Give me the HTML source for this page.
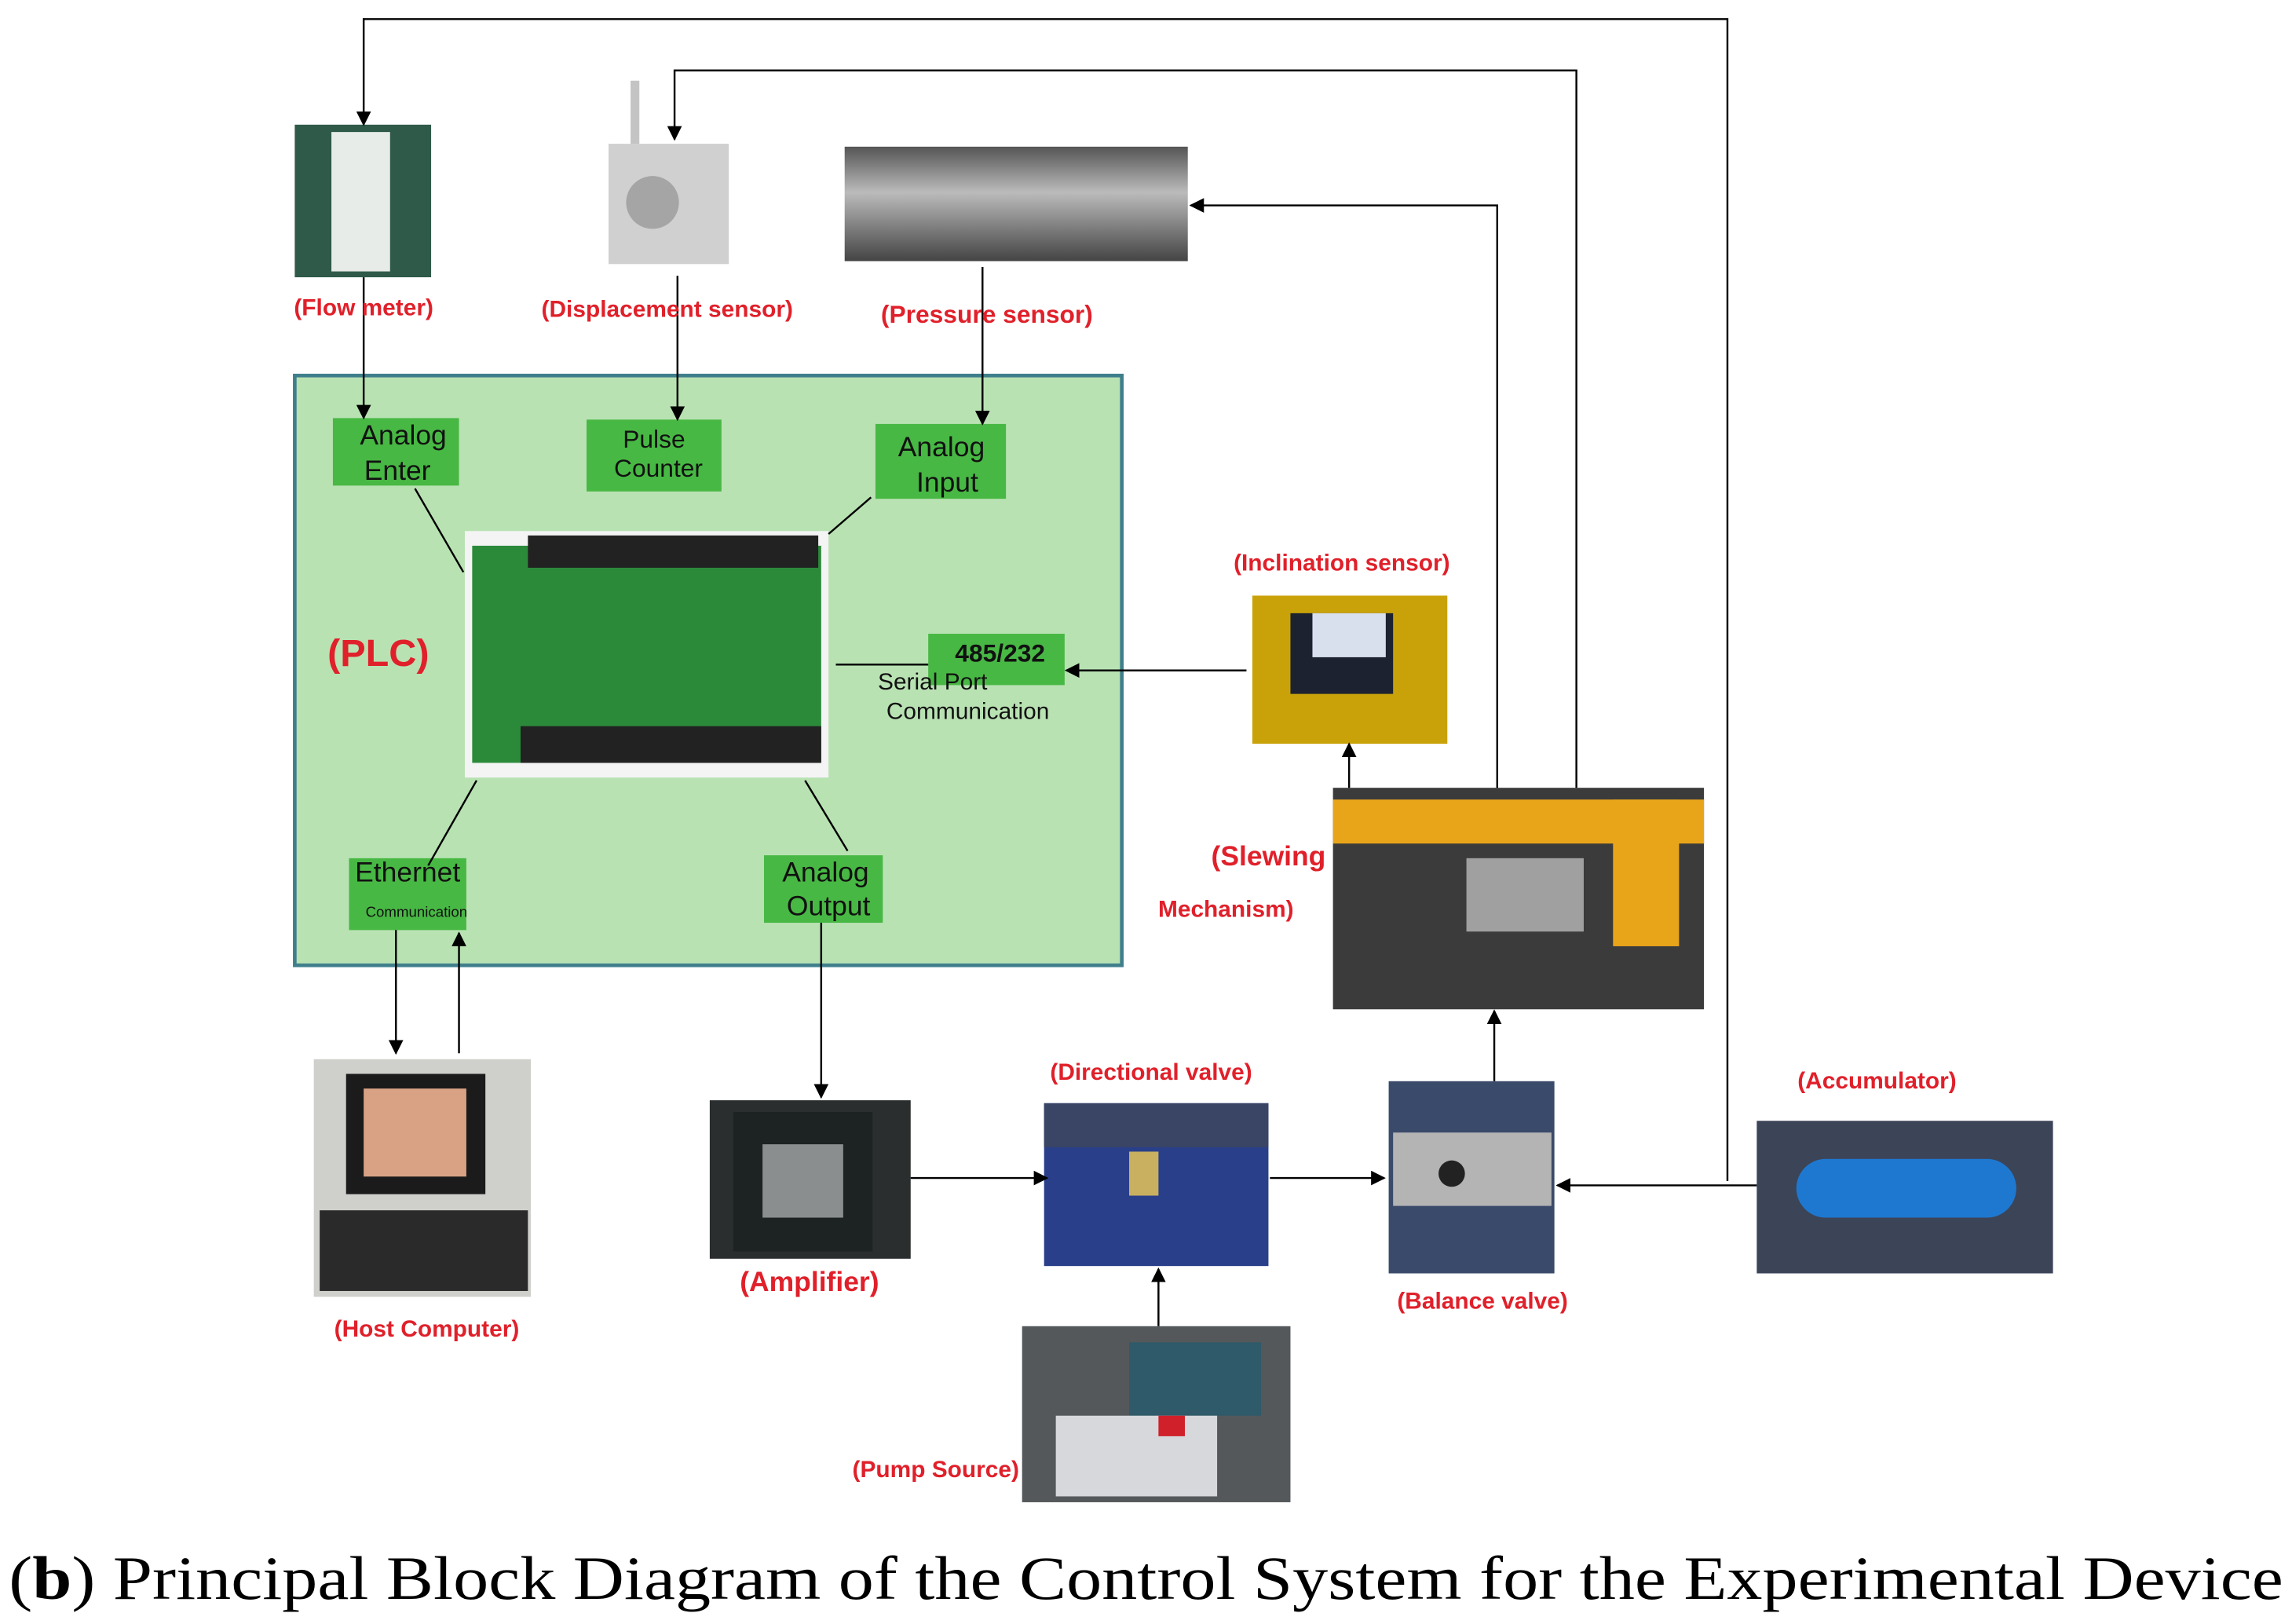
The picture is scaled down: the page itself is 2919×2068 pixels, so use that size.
<!DOCTYPE html>
<html><head><meta charset="utf-8"><style>
html,body{margin:0;padding:0;background:#fff;}
svg{display:block;}
.lbl{font-family:"Liberation Sans",sans-serif;font-weight:bold;fill:#e0202a;font-size:16px;text-anchor:middle;}
.g{font-family:"Liberation Sans",sans-serif;fill:#111;text-anchor:middle;}
</style></head><body>
<svg width="2919" height="2068" viewBox="0 0 1563 1107" preserveAspectRatio="none" xmlns="http://www.w3.org/2000/svg">
<defs>
<marker id="a" markerWidth="10" markerHeight="10" refX="9" refY="5" orient="auto" markerUnits="userSpaceOnUse"><path d="M0,0 L10,5 L0,10 z" fill="#000"/></marker>
<linearGradient id="metal" x1="0" y1="0" x2="0" y2="1"><stop offset="0" stop-color="#555"/><stop offset=".4" stop-color="#bbb"/><stop offset="1" stop-color="#444"/></linearGradient>
</defs>
<rect width="1563" height="1107" fill="#fff"/>
<rect x="201" y="256" width="564" height="402" fill="#b9e2b3" stroke="#3f7f8c" stroke-width="2.5"/>
<rect x="201" y="85" width="93" height="104" fill="#2f5a4a"/><rect x="226" y="90" width="40" height="95" fill="#e8ece8"/>
<rect x="415" y="98" width="82" height="82" fill="#d0d0d0"/><circle cx="445" cy="138" r="18" fill="#a5a5a5"/><rect x="430" y="55" width="6" height="43" fill="#c4c4c4"/>
<rect x="576" y="100" width="234" height="78" fill="url(#metal)"/>
<rect x="317" y="362" width="248" height="168" fill="#f4f4f4"/><rect x="322" y="372" width="238" height="148" fill="#2b8a3a"/><rect x="360" y="365" width="198" height="22" fill="#222"/><rect x="355" y="495" width="205" height="25" fill="#222"/>
<rect x="854" y="406" width="133" height="101" fill="#c9a20a"/><rect x="880" y="418" width="70" height="55" fill="#1c2230"/><rect x="895" y="418" width="50" height="30" fill="#d8e0ee"/>
<rect x="909" y="537" width="253" height="151" fill="#3b3b3b"/><rect x="909" y="545" width="253" height="30" fill="#e9a51a"/><rect x="1100" y="545" width="45" height="100" fill="#e9a51a"/><rect x="1000" y="585" width="80" height="50" fill="#a0a0a0"/>
<rect x="214" y="722" width="148" height="162" fill="#cfd0cc"/><rect x="236" y="732" width="95" height="82" fill="#1b1b1b"/><rect x="248" y="742" width="70" height="60" fill="#d9a284"/><rect x="218" y="825" width="142" height="55" fill="#2a2a2a"/>
<rect x="484" y="750" width="137" height="108" fill="#2a2e2e"/><rect x="500" y="758" width="95" height="95" fill="#1d2222"/><rect x="520" y="780" width="55" height="50" fill="#8a8e8e"/>
<rect x="712" y="752" width="153" height="111" fill="#2a3f8a"/><rect x="712" y="752" width="153" height="30" fill="#3a4566"/><rect x="770" y="785" width="20" height="30" fill="#c9b060"/>
<rect x="697" y="904" width="183" height="120" fill="#54585a"/><rect x="770" y="915" width="90" height="50" fill="#2e5a6a"/><rect x="720" y="965" width="110" height="55" fill="#d6d8dc"/><rect x="790" y="965" width="18" height="14" fill="#d0202a"/>
<rect x="947" y="737" width="113" height="131" fill="#3a4a6a"/><rect x="950" y="772" width="108" height="50" fill="#b4b4b4"/><circle cx="990" cy="800" r="9" fill="#222"/>
<rect x="1198" y="764" width="202" height="104" fill="#3c4458"/><rect x="1225" y="790" width="150" height="40" rx="20" fill="#1e78d0"/>
<g fill="#48b844">
<rect x="227" y="285" width="86" height="46"/><rect x="400" y="286" width="92" height="49"/><rect x="597" y="289" width="89" height="51"/><rect x="633" y="432" width="93" height="35"/><rect x="238" y="585" width="80" height="49"/><rect x="521" y="583" width="81" height="46"/>
</g>
<g class="g" font-size="19">
<text x="275" y="303">Analog</text><text x="271" y="327">Enter</text>
<text x="446" y="305" font-size="17">Pulse</text><text x="449" y="325" font-size="17">Counter</text>
<text x="642" y="311">Analog</text><text x="646" y="335">Input</text>
<text x="682" y="451" font-weight="bold" font-size="17">485/232</text>
<text x="636" y="470" font-size="16">Serial Port</text><text x="660" y="490" font-size="16">Communication</text>
<text x="278" y="601">Ethernet</text><text x="284" y="625" font-size="10">Communication</text>
<text x="563" y="601">Analog</text><text x="565" y="624">Output</text>
</g>
<text x="258" y="454" class="lbl" style="font-size:26px">(PLC)</text>
<g stroke="#000" stroke-width="1.3" fill="none">
<polyline points="1178,805 1178,13 248,13 248,85" marker-end="url(#a)"/>
<polyline points="1075,537 1075,48 460,48 460,95" marker-end="url(#a)"/>
<polyline points="1021,537 1021,140 812,140" marker-end="url(#a)"/>
<line x1="248" y1="189" x2="248" y2="285" marker-end="url(#a)"/>
<line x1="462" y1="188" x2="462" y2="286" marker-end="url(#a)"/>
<line x1="670" y1="182" x2="670" y2="289" marker-end="url(#a)"/>
<line x1="283" y1="333" x2="316" y2="390"/><line x1="565" y1="364" x2="594" y2="339"/>
<line x1="325" y1="532" x2="292" y2="590"/><line x1="549" y1="532" x2="578" y2="580"/>
<line x1="570" y1="453" x2="633" y2="453"/>
<line x1="850" y1="457" x2="727" y2="457" marker-end="url(#a)"/>
<line x1="920" y1="537" x2="920" y2="507" marker-end="url(#a)"/>
<line x1="270" y1="634" x2="270" y2="718" marker-end="url(#a)"/>
<line x1="313" y1="718" x2="313" y2="636" marker-end="url(#a)"/>
<line x1="560" y1="629" x2="560" y2="748" marker-end="url(#a)"/>
<line x1="621" y1="803" x2="714" y2="803" marker-end="url(#a)"/>
<line x1="790" y1="904" x2="790" y2="865" marker-end="url(#a)"/>
<line x1="866" y1="803" x2="944" y2="803" marker-end="url(#a)"/>
<line x1="1019" y1="737" x2="1019" y2="689" marker-end="url(#a)"/>
<line x1="1198" y1="808" x2="1062" y2="808" marker-end="url(#a)"/>
</g>
<text x="248" y="215" class="lbl">(Flow meter)</text>
<text x="455" y="216" class="lbl">(Displacement sensor)</text>
<text x="673" y="220" class="lbl" style="font-size:17px">(Pressure sensor)</text>
<text x="915" y="389" class="lbl">(Inclination sensor)</text>
<text x="865" y="590" class="lbl" style="font-size:19px">(Slewing</text>
<text x="836" y="625" class="lbl">Mechanism)</text>
<text x="785" y="736" class="lbl">(Directional valve)</text>
<text x="1280" y="742" class="lbl">(Accumulator)</text>
<text x="291" y="911" class="lbl">(Host Computer)</text>
<text x="552" y="880" class="lbl" style="font-size:19px">(Amplifier)</text>
<text x="1011" y="892" class="lbl">(Balance valve)</text>
<text x="695" y="1007" class="lbl" style="text-anchor:end">(Pump Source)</text>
<text x="6" y="1090" font-family="Liberation Serif,serif" font-size="42" fill="#000" textLength="1551" lengthAdjust="spacingAndGlyphs">(<tspan font-weight="bold">b</tspan>) Principal Block Diagram of the Control System for the Experimental Device</text>
</svg>
</body></html>
